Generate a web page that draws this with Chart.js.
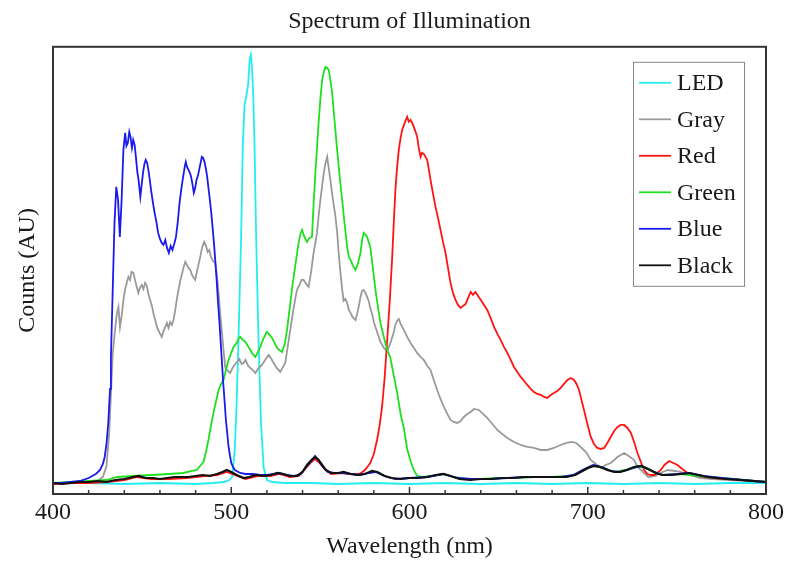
<!DOCTYPE html>
<html>
<head>
<meta charset="utf-8">
<title>Spectrum of Illumination</title>
<script src="https://cdn.jsdelivr.net/npm/chart.js@4.4.1/dist/chart.umd.min.js"></script>
<style>
  body { margin: 0; background: #fff; }
  canvas { display: block; }
</style>
</head>
<body>
<canvas id="chart" width="788" height="570"></canvas>
<script>
// Spectra; x in nm, y in arbitrary counts
const ledNm = [400, 420, 440, 460, 480, 490, 496, 499, 500.5, 502, 503, 504, 505, 505.5, 506.5, 507.5, 508.5, 509.5, 510.3, 511, 511.7, 512.3, 513, 514, 515.3, 516.7, 518.2, 520, 523, 530, 545, 560, 580, 600, 620, 640, 660, 680, 700, 720, 740, 760, 780, 800];
const ledCounts = [11, 11, 10, 11, 10, 11, 12, 14, 17, 45, 90, 150, 220, 254, 350, 390, 398, 410, 434, 439, 425, 400, 354, 254, 154, 71, 26, 14, 12, 11, 11, 10, 11, 10, 11, 10, 11, 10, 11, 10, 11, 10, 11, 11];

const grayNm = [400, 410, 420, 425, 428, 430, 431.5, 432.5, 433.5, 434.8, 435.8, 436.7, 437.6, 438.5, 439.5, 440.5, 441.5, 442.3, 443.2, 444, 445.1, 446, 447, 447.9, 448.8, 449.8, 450.7, 451.7, 452.6, 453.5, 454.5, 455.5, 456.4, 457.3, 458.5, 459.8, 461, 462, 463, 463.9, 464.8, 465.7, 466.7, 467.6, 468.6, 469.5, 470.4, 471.5, 472.5, 473.3, 474.2, 475.1, 476, 477, 478, 479, 479.8, 480.7, 481.6, 482.6, 483.6, 484.8, 485.8, 486.8, 487.7, 488.6, 489.7, 491, 492, 492.9, 493.8, 494.8, 495.7, 496.6, 497.5, 499.4, 501, 503.2, 504.5, 505.8, 506.9, 508, 509.5, 510.7, 512, 513.5, 515, 517.2, 519, 521, 522.5, 523.8, 525.5, 527.5, 529, 530.3, 531.5, 533.1, 534.5, 536, 536.9, 538, 539.5, 540.6, 542, 543.4, 544.8, 546.2, 547.2, 548.1, 549, 550, 551, 551.9, 552.8, 553.8, 554.6, 555.6, 556.6, 557.5, 558.4, 559.4, 560.3, 561.2, 562.2, 563, 564, 565, 566, 566.9, 568, 569.7, 570.6, 571.5, 572.5, 573.4, 574.3, 575.3, 576.2, 577.1, 578, 579, 580, 581.8, 583.7, 585.6, 587.5, 589.3, 591.2, 592.2, 593, 594, 595, 596.8, 598.7, 600.6, 602.5, 604.3, 606.2, 608, 610, 611.8, 613.6, 615.5, 617.4, 619.3, 621.2, 623, 624.9, 626.8, 628.7, 630.5, 632.4, 634.3, 636.2, 638.9, 641.2, 643.6, 646.5, 649.3, 652, 654.9, 658.6, 662.4, 666, 669.8, 673.6, 677.3, 681, 684.8, 688, 691.4, 693.5, 696, 699, 701.7, 704.5, 707.3, 710, 712.9, 716.7, 720.4, 723, 726, 728, 731.6, 734, 738, 742, 745, 749, 752, 757, 763.5, 770, 780, 790, 800];
const grayCounts = [11, 11, 12, 13, 17, 28, 60, 100, 140, 164, 180, 187, 167, 178, 194, 205, 212, 217, 214, 222, 221, 214, 207, 201, 206, 209, 205, 211, 208, 200, 194, 188, 180, 174, 166, 161, 157, 163, 167, 171, 166, 172, 169, 174, 184, 195, 204, 214, 221, 227, 232, 229, 226, 224, 219, 216, 214, 222, 229, 237, 246, 252, 248, 242, 244, 237, 233, 231, 218, 201, 180, 161, 143, 127, 124, 121, 127, 132, 135, 130, 131, 134, 128, 126, 124, 121, 125, 129, 134, 139, 135, 131, 126, 122, 127, 131, 145, 164, 180, 196, 204, 208, 214, 214, 210, 207, 222, 241, 251, 261, 278, 294, 308, 321, 330, 337, 327, 314, 300, 289, 278, 262, 240, 222, 205, 193, 195, 191, 184, 181, 177, 174, 180, 187, 197, 203, 204, 201, 197, 193, 186, 180, 172, 162, 152, 146, 143, 151, 162, 170, 173, 175, 170, 164, 157, 151, 146, 141, 137, 134, 128, 124, 114, 104, 95, 87, 80, 74, 72, 71, 73, 77, 80, 82, 85, 84, 80, 76, 70, 64, 60, 56, 52, 49, 47, 46, 44, 44, 46, 49, 51, 52, 51, 47, 42, 34, 30, 26, 29, 31, 37, 41, 38, 34, 27, 21, 17, 18, 22, 24, 23, 22, 19, 16, 15, 14, 13, 12];

const redNm = [400, 410, 420, 430, 440, 447, 455, 465, 475, 485, 492, 497.5, 502, 508, 515, 522, 527, 533, 538, 542, 545, 547, 549, 552, 556, 562, 567, 572, 575, 578, 580, 581.8, 583.2, 584.6, 586, 587.5, 589, 590.3, 591.2, 592.1, 593, 594, 595, 595.9, 597.3, 598.7, 599.6, 600.6, 601.5, 602.4, 603.4, 604.3, 605.2, 606.2, 607, 608, 609, 609.9, 610.8, 611.8, 613.2, 614.6, 616, 617.4, 618.8, 620.2, 621.6, 623, 624.4, 625.8, 627.2, 628.7, 630, 631.5, 632.9, 634.3, 635.6, 637, 638.5, 640, 641.8, 643.6, 645.5, 647.4, 649.3, 651.1, 653, 654.9, 656.8, 658.6, 660.5, 662.4, 664.3, 666.1, 668, 669.8, 671.7, 673.6, 675.5, 677.3, 679.2, 681, 682.9, 684.8, 686.7, 688.6, 690.5, 692.3, 693.7, 695.1, 696.5, 697.9, 699.8, 701.7, 703.5, 705.4, 707.3, 709.2, 711, 712.9, 714.8, 716.7, 718.5, 720.4, 722.3, 724.2, 726, 727.9, 729.8, 731.6, 733.5, 735.4, 737.3, 739, 741, 743, 745.7, 748, 750.4, 753, 756, 759, 762, 767, 771, 778, 786, 793, 800];
const redCounts = [10, 11, 11, 12, 14, 17, 15, 15, 16, 18, 19, 22, 19, 15, 18, 18, 20, 17, 18, 26, 32, 35, 32, 26, 20, 21, 20, 20, 24, 31, 40, 54, 68, 87, 115, 154, 195, 237, 272, 304, 326, 344, 356, 364, 371, 377, 372, 374, 371, 367, 362, 357, 346, 337, 341, 340, 337, 334, 325, 314, 300, 287, 276, 264, 252, 241, 226, 211, 201, 194, 189, 186, 188, 190, 196, 202, 199, 202, 198, 194, 189, 184, 176, 167, 160, 154, 147, 141, 134, 127, 122, 117, 113, 109, 105, 102, 100, 99, 97, 96, 99, 101, 103, 106, 110, 114, 116, 114, 110, 104, 94, 84, 70, 57, 50, 46, 45, 46, 51, 57, 63, 67, 69, 69, 66, 61, 52, 41, 32, 24, 20, 19, 19, 21, 24, 29, 33, 31, 29, 25, 21, 19, 18, 17, 16, 15, 14, 13, 12];

const greenNm = [400, 410, 420, 430, 436, 445, 455, 465, 473, 478, 480.7, 482.5, 484.4, 485.8, 487.2, 488.6, 490, 491.5, 492.9, 494.3, 495.7, 497, 498.5, 500, 501.3, 503, 504, 505, 506.5, 507.9, 509.3, 510.7, 512, 513.5, 515, 516.3, 518, 520, 521.5, 522.9, 524.3, 525.7, 527, 528.5, 530, 531.3, 532.6, 534, 535.9, 537.8, 538.8, 539.7, 541, 542.5, 543.9, 545.3, 546.2, 547.2, 548.1, 549, 550, 551, 552, 552.8, 553.7, 554.7, 555.6, 556.6, 558, 559.4, 560.8, 562.2, 563.6, 565, 566, 566.9, 568.3, 569.7, 571, 572.5, 573.4, 574.3, 575.3, 576.2, 577.1, 578, 579.5, 580.9, 582.3, 583.7, 585.6, 587.5, 589.3, 591.2, 593, 595, 596.8, 598.7, 600.6, 602.4, 604.3, 607, 612, 619, 625, 632, 640, 650, 660, 670, 680, 690, 697, 703, 709, 715, 721, 728, 735, 742, 752, 762, 775, 788, 800];
const greenCounts = [11, 12, 13, 14, 17, 18, 19, 20, 21, 23, 24, 28, 32, 42, 54, 68, 81, 93, 104, 110, 114, 124, 134, 141, 147, 151, 155, 157, 154, 152, 148, 144, 140, 137, 142, 147, 155, 162, 159, 156, 151, 146, 144, 142, 150, 164, 183, 204, 228, 251, 260, 264, 257, 252, 256, 257, 290, 321, 346, 371, 395, 414, 422, 427, 426, 424, 414, 401, 372, 344, 318, 294, 270, 247, 237, 234, 228, 224, 230, 241, 254, 261, 259, 257, 252, 247, 225, 204, 187, 171, 157, 144, 136, 118, 102, 80, 66, 45, 33, 24, 18, 17, 18, 20, 17, 15, 15, 16, 16, 17, 17, 18, 23, 28, 26, 22, 24, 28, 24, 19, 20, 18, 16, 14, 12];

const blueNm = [400, 405, 410, 415, 420, 424, 426.4, 428, 429, 430, 431, 432, 432.5, 433.5, 434.5, 435.5, 436.5, 437.5, 438.5, 439.5, 440.5, 441.2, 442, 442.8, 443.5, 444.3, 445, 445.8, 446.5, 447.3, 448, 449, 449.8, 450.5, 451.3, 452, 452.8, 453.5, 454.3, 455, 456, 457, 458, 459, 460, 461, 462, 463, 464, 465, 466, 467, 468, 469, 470, 471, 472, 473, 474, 474.5, 475.2, 476, 476.8, 477.5, 478.3, 479, 479.8, 480.5, 481.3, 482, 482.8, 483.5, 484.2, 485, 485.8, 486.5, 487.2, 488, 488.8, 489.5, 490.3, 491, 491.8, 492.5, 493.3, 494, 494.8, 495.5, 496.3, 497, 497.8, 498.5, 499.3, 500, 501, 502, 505, 508, 512, 516, 520, 524, 527, 531, 535, 539, 542, 545, 547, 549, 551, 554, 558, 563, 567, 572, 577, 581, 586, 592, 600, 610, 619, 627, 635, 645, 655, 665, 675, 685, 692, 697, 703, 708, 713, 718, 724, 730, 736, 742, 750, 757, 765, 775, 787, 800];
const blueCounts = [11, 11, 12, 13, 16, 20, 24, 30, 37, 50, 71, 105, 137, 204, 271, 307, 294, 257, 294, 344, 361, 348, 351, 362, 357, 346, 354, 349, 337, 322, 314, 297, 310, 321, 330, 334, 331, 324, 314, 304, 292, 281, 272, 261, 255, 251, 249, 254, 246, 241, 248, 244, 250, 257, 272, 291, 305, 317, 328, 332, 327, 324, 321, 317, 309, 301, 306, 314, 318, 324, 331, 337, 336, 332, 325, 317, 306, 294, 281, 267, 251, 234, 214, 194, 174, 154, 131, 111, 92, 74, 60, 47, 38, 31, 27, 24, 21, 20, 20, 19, 19, 20, 21, 19, 18, 20, 27, 33, 38, 34, 28, 22, 21, 21, 20, 19, 21, 22, 18, 15, 16, 17, 20, 16, 15, 15, 16, 17, 17, 17, 19, 24, 29, 27, 23, 22, 25, 28, 23, 19, 20, 21, 18, 16, 14, 12];

const blackNm = [400, 405, 410, 415, 420, 425, 430, 435, 440, 445, 448, 452, 456, 460, 464, 468, 472, 476, 480, 484, 488, 492, 495, 497.5, 500, 503, 507, 510, 514, 518, 522, 526, 529, 533, 537, 540, 542.5, 545, 547, 549, 551, 553, 556, 560, 563, 567, 571, 575, 579, 582, 586, 590, 595, 600, 605, 610, 615, 619, 623, 628, 634, 640, 646, 652, 658, 664, 670, 676, 682, 688, 693, 697, 700, 703.5, 707, 711, 715, 718, 722, 726, 730, 734, 738, 742, 747, 752, 757, 762, 767, 772, 778, 786, 793, 800];
const blackCounts = [11, 10, 11, 12, 12, 13, 12, 14, 15, 17, 18, 16, 16, 15, 16, 17, 17, 17, 18, 19, 18, 20, 22, 24, 22, 19, 16, 17, 19, 18, 19, 21, 20, 18, 18, 22, 29, 34, 37, 34, 29, 24, 21, 21, 22, 20, 19, 20, 23, 22, 18, 16, 15, 16, 16, 17, 19, 20, 18, 15, 14, 15, 15, 16, 16, 17, 17, 17, 17, 17, 19, 23, 26, 28, 27, 24, 22, 22, 24, 27, 28, 25, 21, 19, 19, 20, 21, 19, 17, 16, 15, 14, 13, 12];

const seriesLabels = ['LED', 'Gray', 'Red', 'Green', 'Blue', 'Black'];
const seriesColors = ['#22eef0', '#9a9a9a', '#ff1414', '#1ee01e', '#1a1aee', '#111111'];
const seriesWidths = [1.8, 1.8, 1.8, 1.8, 1.8, 2.2];
const majorTicks = [400, 500, 600, 700, 800];
const minorTicks = [420, 440, 460, 480, 520, 540, 560, 580, 620, 640, 660, 680, 720, 740, 760, 780];

const serif = 'Liberation Serif, Times New Roman, serif';
const textColor = '#1a1a1a';

const toPoints = (xs, ys) => xs.map((x, i) => ({ x: x, y: ys[i] }));

const allSeries = [
    toPoints(ledNm, ledCounts),
    toPoints(grayNm, grayCounts),
    toPoints(redNm, redCounts),
    toPoints(greenNm, greenCounts),
    toPoints(blueNm, blueCounts),
    toPoints(blackNm, blackCounts),
];

// frame, inward ticks and the boxed legend
const framePlugin = {
    id: 'frame',
    afterDatasetsDraw(chart) {
        const { ctx, chartArea: a, scales: { x } } = chart;
        ctx.save();
        ctx.strokeStyle = '#333';
        ctx.lineWidth = 2;
        ctx.strokeRect(a.left, a.top, a.right - a.left, a.bottom - a.top);

        ctx.lineWidth = 1.5;
        ctx.beginPath();
        majorTicks.forEach(v => {
            const px = x.getPixelForValue(v);
            ctx.moveTo(px, a.bottom);
            ctx.lineTo(px, a.bottom - 7);
        });
        minorTicks.forEach(v => {
            const px = x.getPixelForValue(v);
            ctx.moveTo(px, a.bottom);
            ctx.lineTo(px, a.bottom - 4);
        });
        ctx.stroke();

        const boxLeft = a.right - 133;
        const boxTop = a.top + 15;
        ctx.fillStyle = '#fff';
        ctx.fillRect(boxLeft, boxTop, 111, 224);
        ctx.strokeStyle = '#888';
        ctx.lineWidth = 1;
        ctx.strokeRect(boxLeft + 0.5, boxTop + 0.5, 111, 224);

        ctx.font = '24px ' + serif;
        ctx.textBaseline = 'middle';
        ctx.textAlign = 'left';
        seriesLabels.forEach((label, i) => {
            const y = boxTop + 21 + i * 36.5;
            ctx.strokeStyle = seriesColors[i];
            ctx.lineWidth = 1.8;
            ctx.beginPath();
            ctx.moveTo(boxLeft + 6, y);
            ctx.lineTo(boxLeft + 38, y);
            ctx.stroke();
            ctx.fillStyle = textColor;
            ctx.fillText(label, boxLeft + 44, y + 1);
        });
        ctx.restore();
    }
};

const ctx = document.getElementById('chart').getContext('2d');
new Chart(ctx, {
    type: 'line',
    data: {
        datasets: seriesLabels.map((label, i) => ({
            label: label,
            data: allSeries[i],
            borderColor: seriesColors[i],
            borderWidth: seriesWidths[i],
            pointRadius: 0,
            fill: false,
            order: seriesLabels.length - i,
        }))
    },
    options: {
        responsive: false,
        animation: false,
        layout: { padding: { left: 0, right: 22, top: 0, bottom: 0 } },
        plugins: {
            legend: { display: false },
            tooltip: { enabled: false },
            title: {
                display: true,
                text: 'Spectrum of Illumination',
                fullSize: false,
                color: textColor,
                font: { family: serif, size: 24, weight: 'normal' },
                padding: { top: 7, bottom: 11 }
            }
        },
        scales: {
            x: {
                type: 'linear',
                min: 400,
                max: 800,
                grid: { display: false, drawTicks: false },
                border: { display: false },
                ticks: {
                    stepSize: 100,
                    color: textColor,
                    font: { family: serif, size: 24 },
                    padding: 4
                },
                title: {
                    display: true,
                    text: 'Wavelength (nm)',
                    color: textColor,
                    font: { family: serif, size: 24 },
                    padding: { top: 0, bottom: 9 }
                },
                afterFit(scale) {
                    scale.height = 76;
                    scale.paddingLeft = 0;
                    scale.paddingRight = 0;
                }
            },
            y: {
                min: 0,
                max: 447,
                grid: { display: false, drawTicks: false },
                border: { display: false },
                ticks: { display: false },
                title: {
                    display: true,
                    text: 'Counts (AU)',
                    color: textColor,
                    font: { family: serif, size: 24 },
                    padding: { top: 13, bottom: 0 }
                },
                afterFit(scale) {
                    scale.width = 53;
                }
            }
        }
    },
    plugins: [framePlugin]
});
</script>
</body>
</html>
